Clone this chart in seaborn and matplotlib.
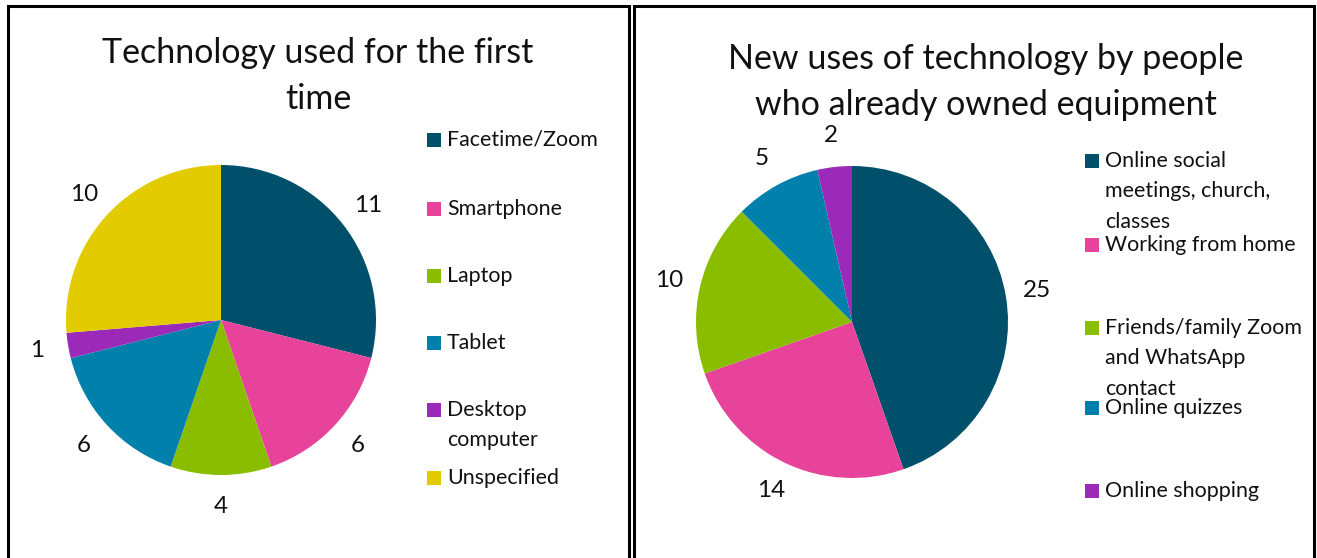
import matplotlib
matplotlib.use("Agg")
import numpy as np
import matplotlib.pyplot as plt
from matplotlib.patches import Rectangle
import seaborn as sns

# Data
first_labels = ["Facetime/Zoom", "Smartphone", "Laptop", "Tablet",
                "Desktop\ncomputer", "Unspecified"]
first_values = [11, 6, 4, 6, 1, 10]

new_labels = ["Online social\nmeetings, church,\nclasses", "Working from home",
              "Friends/family Zoom\nand WhatsApp\ncontact", "Online quizzes",
              "Online shopping"]
new_values = [25, 14, 10, 5, 2]

first_title = "Technology used for the first\ntime"
new_title = "New uses of technology by people\nwho already owned equipment"

palette = ["#00506B", "#E8439A", "#8ABD00", "#0080AB", "#9B2AB8", "#E2CC00"]

sns.set_theme(style="white")
plt.rcParams["font.family"] = ["Lato", "DejaVu Sans"]

W, H = 1317, 558
fig = plt.figure(figsize=(W / 100, H / 100), dpi=100)
fig.patch.set_facecolor("white")
TXT = "#111111"


def fx(px):
    return px / W


def fy(py):
    return 1 - py / H


# Panel frames
for x0, x1 in [(8, 629), (634, 1314)]:
    fig.patches.append(Rectangle((fx(x0), fy(575)), fx(x1 - x0), (575 - 6) / H,
                                 transform=fig.transFigure, fill=False,
                                 edgecolor="black", linewidth=2.2))


def draw_pie(values, labels, colors, cx, cy, r, title, tx, ty, leg_x, leg_ys):
    ax = fig.add_axes([fx(cx - r), fy(cy + r), fx(2 * r), 2 * r / H])
    wedges, _ = ax.pie(values, colors=colors, startangle=90, counterclock=False,
                       wedgeprops=dict(linewidth=0))
    # value labels centred just outside each slice
    for w, v in zip(wedges, values):
        ang = np.deg2rad((w.theta1 + w.theta2) / 2)
        ax.text(1.2 * np.cos(ang), 1.2 * np.sin(ang), str(v), ha="center",
                va="center", fontsize=17.5, color=TXT)
    ax.set_xlim(-1, 1)
    ax.set_ylim(-1, 1)
    ax.set_aspect("equal")
    ax.axis("off")
    fig.text(fx(tx), fy(ty), title, ha="center", va="top", fontsize=24.5,
             color=TXT, linespacing=1.55)
    for lab, c, ly in zip(labels, colors, leg_ys):
        fig.patches.append(Rectangle((fx(leg_x), fy(ly + 7)), fx(14), 14 / H,
                                     transform=fig.transFigure, facecolor=c,
                                     edgecolor="none"))
        fig.text(fx(leg_x + 20), fy(ly - 10), lab, ha="left", va="top",
                 fontsize=15.4, color=TXT, linespacing=1.65)


draw_pie(first_values, first_labels, palette, 221, 320, 155,
         first_title, 318, 37, 427, [140, 209, 276, 343, 410, 478])
draw_pie(new_values, new_labels, palette[:5], 852, 322, 156,
         new_title, 986, 43, 1085, [161, 245, 328, 408, 491])

fig.savefig("out.png", dpi=100, facecolor="white")
